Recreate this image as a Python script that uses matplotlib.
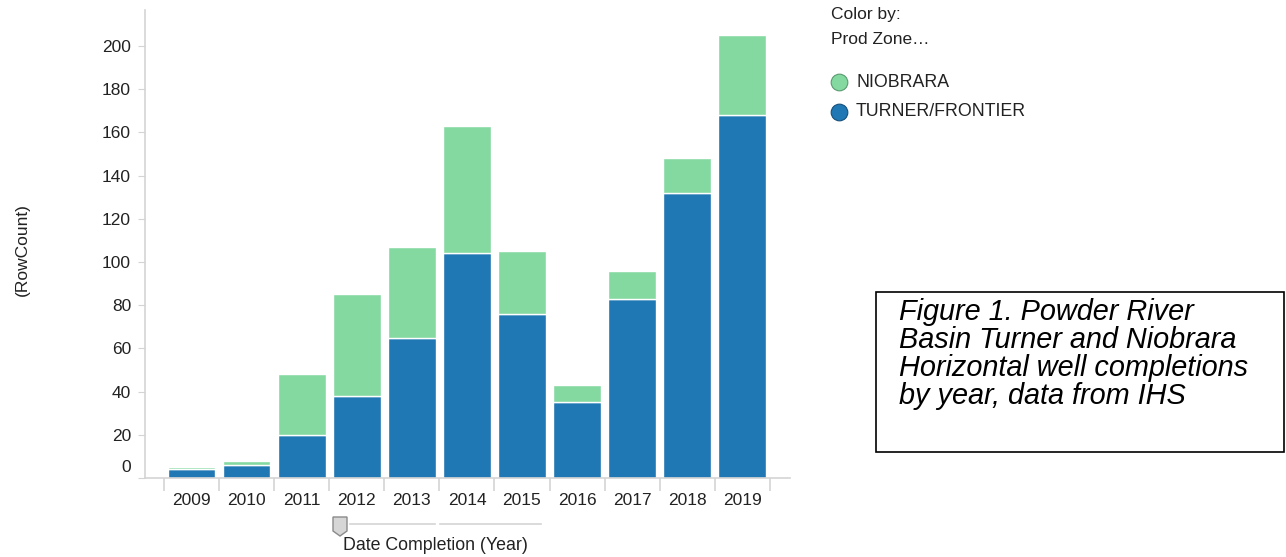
import matplotlib
matplotlib.use("Agg")
import matplotlib.pyplot as plt
from matplotlib.lines import Line2D
from matplotlib.patches import Polygon, Rectangle
from matplotlib.transforms import ScaledTranslation

plt.rcParams['font.family'] = ['Liberation Sans', 'DejaVu Sans']

years = ['2009', '2010', '2011', '2012', '2013', '2014', '2015', '2016', '2017', '2018', '2019']
turner = [4, 6, 20, 38, 65, 104, 76, 35, 83, 132, 168]
niobrara = [1, 2, 28, 47, 42, 59, 29, 8, 13, 16, 37]

blue = '#1f77b4'
green = '#84d9a1'
grid_grey = '#d4d4d4'
txt = '#222222'

fig = plt.figure(figsize=(12.86, 5.57), dpi=100)
ax = fig.add_axes([145 / 1286, 1 - 478 / 557, (790 - 145) / 1286, (478 - 10) / 557])

x = list(range(len(years)))
ax.bar(x, turner, width=0.86, color=blue, edgecolor='white', linewidth=1)
ax.bar(x, niobrara, width=0.86, bottom=turner, color=green, edgecolor='white', linewidth=1)

ax.set_xlim(-0.85, 10.87)
ax.set_ylim(0, 216.7)

for s in ['top', 'right']:
    ax.spines[s].set_visible(False)
for s in ['left', 'bottom']:
    ax.spines[s].set_color(grid_grey)
    ax.spines[s].set_linewidth(1.2)

ax.set_yticks(range(0, 201, 20))
ax.tick_params(axis='y', length=5, color=grid_grey, labelsize=12.5, labelcolor=txt, pad=5)
# the zero label sits a little above the baseline
lab0 = ax.get_yticklabels()[0]
lab0.set_transform(lab0.get_transform() + ScaledTranslation(0, 12 / 100, fig.dpi_scale_trans))

ax.set_xticks(x)
ax.set_xticklabels(years)
ax.set_xticks([i - 0.5 for i in range(len(years) + 1)], minor=True)
ax.tick_params(axis='x', which='major', length=0, labelsize=12.5, labelcolor=txt, pad=11)
ax.tick_params(axis='x', which='minor', length=9, color=grid_grey, width=1.2)

fig.text(22 / 1286, 1 - 250 / 557, '(RowCount)', rotation=90, ha='center', va='center',
         fontsize=12.5, color=txt)

# slider under the axis
fig.add_artist(Line2D([350 / 1286, 435 / 1286], [1 - 524 / 557] * 2, color=grid_grey, lw=1.2))
fig.add_artist(Line2D([440 / 1286, 541 / 1286], [1 - 524 / 557] * 2, color=grid_grey, lw=1.2))
hx = [333, 347, 347, 340, 333]
hy = [517, 517, 531, 536, 531]
fig.add_artist(Polygon([(a / 1286, 1 - b / 557) for a, b in zip(hx, hy)], closed=True,
                       facecolor='#d6d6d6', edgecolor='#8a8a8a', lw=1))
fig.text(343 / 1286, 1 - 545 / 557, 'Date Completion (Year)', ha='left', va='center',
         fontsize=12.8, color=txt)

# legend
fig.text(831 / 1286, 1 - 14 / 557, 'Color by:', ha='left', va='center', fontsize=12.5, color=txt)
fig.text(831 / 1286, 1 - 40 / 557, 'Prod Zone\u2026', ha='left', va='center', fontsize=12.5, color=txt)
for name, col, edge, yy in [('NIOBRARA', green, '#5a9a70', 82), ('TURNER/FRONTIER', blue, '#15507a', 112)]:
    fig.add_artist(Line2D([839 / 1286], [1 - yy / 557], marker='o', markersize=12,
                          markerfacecolor=col, markeredgecolor=edge,
                          markeredgewidth=0.8, linestyle='none'))
    fig.text(856 / 1286, 1 - yy / 557, name, ha='left', va='center', fontsize=12.8, color=txt)

# caption box
fig.add_artist(Rectangle((876 / 1286, 1 - 452 / 557), (1284 - 876) / 1286, (452 - 292) / 557,
                         facecolor='white', edgecolor='black', lw=1.2))
fig.text(899 / 1286, 1 - 354 / 557,
         'Figure 1. Powder River\nBasin Turner and Niobrara\nHorizontal well completions\nby year, data from IHS',
         ha='left', va='center', fontsize=20.8, style='italic', color='black', linespacing=1.0)

fig.savefig('out.png', dpi=100)
